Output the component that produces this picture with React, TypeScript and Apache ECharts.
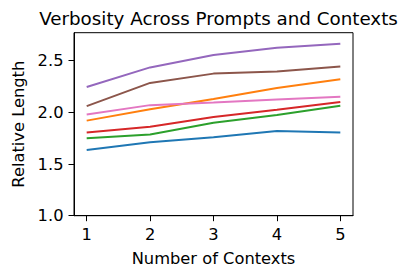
import React, { useEffect, useRef } from "react";
import * as echarts from "echarts";

const contexts = [1, 2, 3, 4, 5];
const seriesBlue = [1.635, 1.71, 1.76, 1.82, 1.805];
const seriesOrange = [1.92, 2.03, 2.13, 2.235, 2.32];
const seriesGreen = [1.75, 1.785, 1.9, 1.975, 2.065];
const seriesRed = [1.805, 1.86, 1.955, 2.025, 2.1];
const seriesPurple = [2.245, 2.435, 2.555, 2.625, 2.665];
const seriesBrown = [2.06, 2.285, 2.375, 2.395, 2.445];
const seriesPink = [1.98, 2.07, 2.095, 2.125, 2.15];
const yTicks = [1.0, 1.5, 2.0, 2.5];

const allSeries = [
  { name: "s0", values: seriesBlue, color: "#1f77b4" },
  { name: "s1", values: seriesOrange, color: "#ff7f0e" },
  { name: "s2", values: seriesGreen, color: "#2ca02c" },
  { name: "s3", values: seriesRed, color: "#d62728" },
  { name: "s4", values: seriesPurple, color: "#9467bd" },
  { name: "s5", values: seriesBrown, color: "#8c564b" },
  { name: "s6", values: seriesPink, color: "#e377c2" },
];

const FONT = "DejaVu Sans";

export default function App() {
  const ref = useRef<HTMLDivElement>(null);
  useEffect(() => {
    if (!ref.current) return;
    const chart = echarts.init(ref.current, undefined, { renderer: "svg" });
    chart.setOption({
      animation: false,
      backgroundColor: "#ffffff",
      title: {
        text: "Verbosity Across Prompts and Contexts",
        left: 213.5,
        top: 4,
        textAlign: "center",
        textStyle: { fontFamily: FONT, fontSize: 18.3, fontWeight: "normal", color: "#000" },
      },
      grid: {
        left: 74,
        right: 53,
        top: 32.7,
        bottom: 51.3,
        show: true,
        borderColor: "#000",
        borderWidth: 1,
        backgroundColor: "transparent",
        containLabel: false,
        outerBoundsMode: "none",
      },
      xAxis: {
        type: "value",
        min: 0.8,
        max: 5.2,
        name: "Number of Contexts",
        nameLocation: "middle",
        nameGap: 35,
        nameTextStyle: { fontFamily: FONT, fontSize: 16.3, color: "#000" },
        axisLine: { show: true, lineStyle: { color: "#000", width: 1 } },
        axisTick: { show: true, length: 5.5, inside: false, customValues: contexts, lineStyle: { color: "#000" } },
        axisLabel: {
          customValues: contexts,
          fontFamily: FONT,
          fontSize: 16.3,
          color: "#000",
          margin: 11,
        },
        splitLine: { show: false },
      },
      yAxis: {
        type: "value",
        min: 1.0,
        max: 2.771,
        name: "Relative Length",
        nameLocation: "middle",
        nameGap: 43,
        nameTextStyle: { fontFamily: FONT, fontSize: 16.3, color: "#000" },
        axisLine: { show: true, lineStyle: { color: "#000", width: 1 } },
        axisTick: { show: true, length: 5.5, inside: false, customValues: yTicks, lineStyle: { color: "#000" } },
        axisLabel: {
          customValues: yTicks,
          fontFamily: FONT,
          fontSize: 16.3,
          color: "#000",
          margin: 10.5,
          formatter: (v: number) => v.toFixed(1),
        },
        splitLine: { show: false },
      },
      series: allSeries.map((s) => ({
        name: s.name,
        type: "line",
        data: contexts.map((c, i) => [c, s.values[i]]),
        showSymbol: false,
        symbol: "none",
        lineStyle: { color: s.color, width: 2 },
        itemStyle: { color: s.color },
      })),
    });
    return () => chart.dispose();
  }, []);
  return (
    <div
      ref={ref}
      style={{ position: "absolute", left: 0, top: 0, width: 406, height: 267 }}
    />
  );
}
